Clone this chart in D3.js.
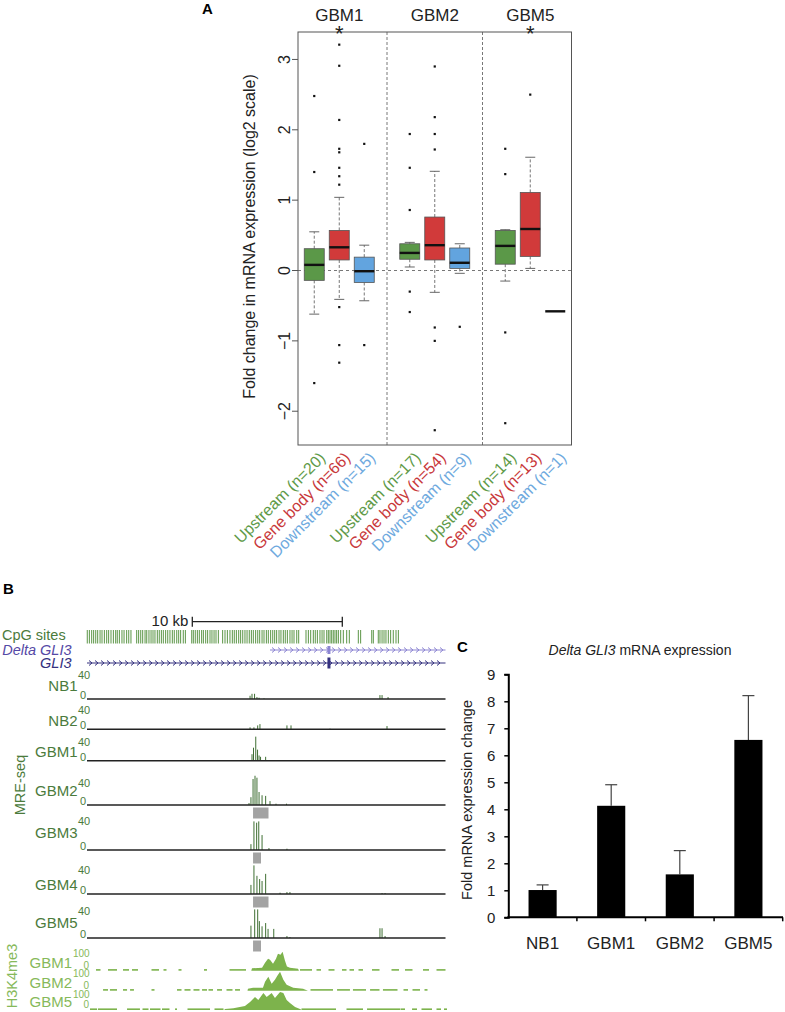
<!DOCTYPE html>
<html>
<head>
<meta charset="utf-8">
<script src="https://cdn.jsdelivr.net/npm/d3@7"></script>
<style>
  body { margin: 0; background: #fff; }
  svg { display: block; font-family: 'Liberation Sans', Arial, Helvetica, sans-serif; }
</style>
</head>
<body>
<svg id="fig" width="785" height="1012"></svg>
<script>
// ---------- panel A data ----------
const groups = ["GBM1", "GBM2", "GBM5"];
const regions = ["Upstream", "Gene body", "Downstream"];
const sigGroups = ["GBM1", "GBM5"];
const counts = [[20, 66, 15], [17, 54, 9], [14, 13, 1]];
// [low whisker, q1, median, q3, high whisker]
const boxStats = [
  [[-0.62, -0.14, 0.08, 0.31, 0.55], [-0.41, 0.15, 0.33, 0.57, 1.04], [-0.43, -0.17, -0.01, 0.19, 0.36]],
  [[0.05, 0.16, 0.25, 0.38, 0.40], [-0.31, 0.15, 0.36, 0.76, 1.41], [-0.04, 0.03, 0.11, 0.32, 0.38]],
  [[-0.15, 0.09, 0.35, 0.57, 0.58], [0.03, 0.20, 0.59, 1.11, 1.61], [-0.58, -0.58, -0.58, -0.58, -0.58]]
];
const outliers = [
  [[2.48, 1.40, -1.60], [3.21, 2.91, 2.14, 1.73, 1.68, 1.46, 1.34, 1.22, -0.52, -1.06, -1.31], [1.80, -1.06]],
  [[1.94, 1.46, 0.86, -0.30, -0.59], [2.90, 2.18, 1.94, 1.72, -0.81, -1.00, -2.27], [-0.80]],
  [[1.73, 1.37, -0.88, -2.17], [2.50], []]
];
const yTicksA = [-2, -1, 0, 1, 2, 3];

// ---------- panel B data (positions in kb) ----------
const cpgSites = [0.02, 0.16, 0.31, 0.44, 0.58, 0.71, 0.87, 1.0, 1.16, 1.31, 1.44, 1.6, 1.76, 1.91, 2.02, 2.16, 2.33, 2.47, 2.64, 2.78, 2.93,
  3.31, 3.44, 3.58, 3.71, 3.87, 3.98, 4.13, 4.27, 4.4, 4.53, 4.69, 4.82, 4.96, 5.09, 5.24, 5.38, 5.53, 5.69, 5.82, 5.98, 6.11, 6.24, 6.42, 6.56,
  6.98, 7.09, 7.22, 7.36, 7.49, 7.64, 7.76, 7.91, 8.04, 8.2, 8.33, 8.47, 8.6, 8.76,
  9.04, 9.2, 9.36, 9.53, 9.69, 9.82, 9.96, 10.11, 10.24, 10.38, 10.53, 10.67, 10.82, 10.96, 11.09, 11.24, 11.38, 11.51, 11.67, 11.8, 11.96,
  12.09, 12.24, 12.38, 12.51, 12.64, 12.8, 12.93, 13.09, 13.22, 13.36, 13.53, 13.67, 13.8, 13.98, 14.11,
  14.6, 14.76, 14.91, 15.09, 15.22, 15.36, 15.53, 15.67, 15.8, 15.98, 16.09, 16.2, 16.31, 16.42, 16.53, 16.64, 16.76, 16.91, 17.09, 17.31, 17.49,
  18.09, 18.24, 18.98, 19.09,
  19.42, 19.53, 19.67, 19.8, 19.93, 20.09, 20.24, 20.42, 20.6, 20.76];
const scaleBarStart = 7.02;
const scaleBarKb = 10;
const deltaGli3 = [12.2, 23.9];
const gli3 = [0, 23.9];
const exonKb = 16.13;

const mreSamples = ["NB1", "NB2", "GBM1", "GBM2", "GBM3", "GBM4", "GBM5"];
// MRE-seq peaks: [kb, read count]
const mrePeaks = [
  [[10.87, 5], [11.0, 8], [11.17, 8], [11.33, 3], [11.47, 2], [11.8, 1], [19.53, 6], [19.67, 6], [20.07, 3]],
  [[10.87, 3], [11.13, 3], [11.38, 6], [11.53, 8], [13.33, 6], [13.6, 6], [16.2, 1], [20.0, 5]],
  [[11.0, 10], [11.1, 20], [11.25, 37], [11.37, 17], [11.47, 8], [11.57, 6], [11.91, 6]],
  [[10.8, 3], [10.93, 12], [11.07, 40], [11.2, 45], [11.33, 42], [11.47, 20], [11.67, 15], [11.91, 14], [12.2, 6], [12.6, 2], [13.3, 2]],
  [[10.93, 9], [11.13, 44], [11.31, 42], [11.45, 44], [11.67, 23], [12.13, 3], [13.33, 2]],
  [[10.93, 14], [11.13, 44], [11.33, 28], [11.51, 23], [11.67, 20], [11.91, 31], [12.87, 2], [13.33, 3], [13.53, 3], [19.67, 1.5], [19.87, 1.5]],
  [[10.93, 19], [11.18, 44], [11.38, 44], [11.49, 26], [11.67, 18], [11.91, 23], [12.07, 14], [12.45, 14], [13.33, 3], [13.53, 1.5], [19.53, 15], [19.67, 15], [19.87, 3]]
];
// grey regions under tracks: [sample, startKb, endKb]
const greyRegions = [["GBM2", 11.07, 12.1], ["GBM3", 11.07, 11.6], ["GBM4", 11.07, 12.1], ["GBM5", 11.07, 11.6]];

const h3Samples = ["GBM1", "GBM2", "GBM5"];
// H3K4me3 coverage around the peak: [kb, signal]
const h3Peak = [
  [[10.95, 0], [11.0, 14], [11.4, 16], [11.67, 18], [11.87, 47], [12.07, 71], [12.2, 65], [12.4, 41], [12.6, 71], [12.73, 100], [12.9, 94], [13.04, 112], [13.2, 59], [13.33, 24], [13.53, 18], [14.07, 12], [14.13, 0]],
  [[10.7, 0], [10.73, 12], [11.07, 18], [11.73, 18], [11.87, 53], [12.09, 82], [12.31, 41], [12.53, 65], [12.7, 90], [12.87, 112], [13.09, 65], [13.31, 35], [13.75, 18], [14.4, 12], [14.73, 0]],
  [[9.15, 0], [9.2, 6], [9.76, 10], [10.53, 24], [10.87, 47], [11.2, 76], [11.42, 59], [11.76, 100], [11.98, 76], [12.31, 100], [12.53, 71], [12.87, 106], [13.09, 100], [13.31, 59], [13.53, 41], [13.87, 18], [14.2, 6], [14.31, 0]]
];
// low background coverage: [startKb, endKb]
const h3Background = [
  [[0.6, 0.9], [1.4, 2.0], [2.4, 2.8], [3.0, 3.4], [4.3, 4.8], [5.1, 5.3], [6.1, 6.3], [7.8, 8.0], [9.5, 10.6], [14.2, 15.0], [15.3, 15.6], [16.1, 16.5], [17.0, 17.3], [17.5, 17.8], [18.1, 18.4], [19.0, 19.5], [20.3, 20.8], [21.2, 21.7], [22.4, 22.8], [23.3, 23.9]],
  [[1.07, 1.4], [1.53, 2.0], [2.4, 2.67], [2.87, 3.13], [4.3, 4.5], [6.0, 6.3], [6.5, 6.9], [7.1, 7.5], [7.67, 8.0], [8.1, 8.4], [8.67, 9.0], [9.3, 9.7], [9.87, 10.2], [14.9, 16.4], [16.67, 17.53], [17.73, 18.6], [18.87, 19.5], [19.73, 20.7], [21.1, 21.4], [21.7, 22.2], [22.5, 22.7]],
  [[0.2, 0.67], [0.73, 2.0], [2.67, 3.53], [3.7, 4.1], [4.2, 4.9], [5.0, 5.5], [5.87, 6.0], [6.7, 8.2], [8.5, 9.1], [14.3, 16.6], [17.3, 18.4], [18.67, 20.87], [20.9, 21.2], [21.67, 22.0], [22.3, 23.0], [23.3, 23.6], [23.8, 24.0]]
];

// ---------- panel C data ----------
const samplesC = ["NB1", "GBM1", "GBM2", "GBM5"];
const foldChange = [1.01, 4.13, 1.59, 6.57];
const foldErr = [0.19, 0.78, 0.88, 1.64];
const yTicksC = [0, 1, 2, 3, 4, 5, 6, 7, 8, 9];

const svg = d3.select("#fig");

// ================= PANEL A =================
const fillA = { "Upstream": "#5b9848", "Gene body": "#d13a3a", "Downstream": "#62a4df" };
const textA = { "Upstream": "#5e9a48", "Gene body": "#c8383a", "Downstream": "#6ea9de" };
const frame = { left: 298, right: 571.5, top: 32, bottom: 445 };

const yA = d3.scaleLinear().domain([-2.48, 3.39]).range([frame.bottom, frame.top]);
const xGroup = d3.scaleBand().domain(groups).range([291.5, 578]);
const xRegion = d3.scalePoint().domain(regions).range([-25, 25]);
const cx = (g, r) => xGroup(g) + xGroup.bandwidth() / 2 + xRegion(r);

const gA = svg.append("g");
gA.append("text").attr("x", 202).attr("y", 14).attr("font-size", 15).attr("font-weight", "bold").text("A");

// zero line and group dividers
gA.append("line")
  .attr("x1", frame.left).attr("x2", frame.right)
  .attr("y1", yA(0)).attr("y2", yA(0))
  .attr("stroke", "#777").attr("stroke-dasharray", "3,3");
groups.slice(1).forEach(g => {
  gA.append("line")
    .attr("x1", xGroup(g)).attr("x2", xGroup(g))
    .attr("y1", frame.top).attr("y2", frame.bottom)
    .attr("stroke", "#555").attr("stroke-dasharray", "3,2").attr("stroke-width", 0.8);
});

// boxes
const boxW = 20;
groups.forEach((g, gi) => {
  regions.forEach((r, ri) => {
    const [lo, q1, med, q3, hi] = boxStats[gi][ri];
    const x = cx(g, r);
    if (counts[gi][ri] > 1) {
      [[q3, hi], [q1, lo]].forEach(([a, b]) => {
        gA.append("line").attr("x1", x).attr("x2", x).attr("y1", yA(a)).attr("y2", yA(b))
          .attr("stroke", "#666").attr("stroke-dasharray", "3,2").attr("stroke-width", 0.9);
        gA.append("line").attr("x1", x - 5).attr("x2", x + 5).attr("y1", yA(b)).attr("y2", yA(b))
          .attr("stroke", "#555").attr("stroke-width", 0.9);
      });
      gA.append("rect")
        .attr("x", x - boxW / 2).attr("y", yA(q3))
        .attr("width", boxW).attr("height", yA(q1) - yA(q3))
        .attr("fill", fillA[r]).attr("stroke", "#555").attr("stroke-width", 0.8);
    }
    gA.append("line").attr("x1", x - boxW / 2).attr("x2", x + boxW / 2)
      .attr("y1", yA(med)).attr("y2", yA(med))
      .attr("stroke", "#111").attr("stroke-width", 2.4);
    gA.selectAll(null).data(outliers[gi][ri]).join("rect")
      .attr("x", x - 1.1).attr("y", d => yA(d) - 1.1)
      .attr("width", 2.2).attr("height", 2.2).attr("fill", "#111");
  });
});

// frame
gA.append("rect")
  .attr("x", frame.left).attr("y", frame.top)
  .attr("width", frame.right - frame.left).attr("height", frame.bottom - frame.top)
  .attr("fill", "none").attr("stroke", "#555").attr("stroke-width", 1);

// y axis
yTicksA.forEach(t => {
  gA.append("line").attr("x1", frame.left - 6).attr("x2", frame.left)
    .attr("y1", yA(t)).attr("y2", yA(t)).attr("stroke", "#555");
  gA.append("text")
    .attr("transform", `translate(290,${yA(t)}) rotate(-90)`)
    .attr("text-anchor", "middle").attr("font-size", 16).attr("fill", "#222")
    .text(t < 0 ? "\u2212" + Math.abs(t) : t);
});
gA.append("text")
  .attr("transform", `translate(255,${(frame.top + frame.bottom) / 2 - 2}) rotate(-90)`)
  .attr("text-anchor", "middle").attr("font-size", 16).attr("fill", "#222")
  .text("Fold change in mRNA expression (log2 scale)");

// group headings and stars
groups.forEach(g => {
  const mid = xGroup(g) + xGroup.bandwidth() / 2;
  gA.append("text").attr("x", mid).attr("y", 20.5)
    .attr("text-anchor", "middle").attr("font-size", 17).attr("fill", "#222").text(g);
  if (sigGroups.includes(g)) {
    gA.append("text").attr("x", mid).attr("y", 41)
      .attr("text-anchor", "middle").attr("font-size", 22).attr("fill", "#222").text("*");
  }
});

// rotated category labels
groups.forEach((g, gi) => {
  regions.forEach((r, ri) => {
    gA.append("text")
      .attr("transform", `translate(${cx(g, r) + 8},455) rotate(-45)`)
      .attr("text-anchor", "end").attr("dy", "0.35em")
      .attr("font-size", 16).attr("fill", textA[r])
      .text(`${r} (n=${counts[gi][ri]})`);
  });
});

// ================= PANEL B =================
const gB = svg.append("g");
const xB = d3.scaleLinear().domain([0, 24]).range([87, 447]);
const mreColor = "#4b7b3c";
const h3Color = "#86b95a";

gB.append("text").attr("x", 3).attr("y", 594).attr("font-size", 15).attr("font-weight", "bold").text("B");

// scale bar
const sbY = 621.7;
gB.append("line").attr("x1", xB(scaleBarStart)).attr("x2", xB(scaleBarStart + scaleBarKb))
  .attr("y1", sbY).attr("y2", sbY).attr("stroke", "#222").attr("stroke-width", 1.3);
[scaleBarStart, scaleBarStart + scaleBarKb].forEach(k => {
  gB.append("line").attr("x1", xB(k)).attr("x2", xB(k)).attr("y1", sbY - 5).attr("y2", sbY + 5)
    .attr("stroke", "#222").attr("stroke-width", 1.3);
});
gB.append("text").attr("x", xB(scaleBarStart) - 4).attr("y", 626).attr("text-anchor", "end")
  .attr("font-size", 15).attr("fill", "#222").text(`${scaleBarKb} kb`);

// CpG sites
gB.append("text").attr("x", 2).attr("y", 639.5).attr("font-size", 14.5).attr("fill", mreColor).text("CpG sites");
gB.selectAll(null).data(cpgSites).join("line")
  .attr("x1", d => xB(d)).attr("x2", d => xB(d))
  .attr("y1", 630).attr("y2", 643.5)
  .attr("stroke", "#6a9f57").attr("stroke-width", 1.1);

// gene models with chevrons
function geneModel(range, y, color, exonH, label, labelY, labelColor) {
  gB.append("line").attr("x1", xB(range[0])).attr("x2", xB(range[1]))
    .attr("y1", y).attr("y2", y).attr("stroke", color).attr("stroke-width", 1.2);
  const chev = d3.range(xB(range[0]) + 4, xB(range[1]) - 1, 6);
  gB.selectAll(null).data(chev).join("path")
    .attr("d", d => `M${d - 2},${y - 2.5}L${d + 1},${y}L${d - 2},${y + 2.5}`)
    .attr("fill", "none").attr("stroke", color).attr("stroke-width", 1);
  gB.append("rect").attr("x", xB(exonKb) - 1.5).attr("y", y - exonH / 2)
    .attr("width", 3).attr("height", exonH).attr("fill", color);
  gB.append("text").attr("x", 71.5).attr("y", labelY).attr("text-anchor", "end")
    .attr("font-size", 14.5).attr("font-style", "italic").attr("fill", labelColor).text(label);
}
geneModel(deltaGli3, 650, "#8b84d2", 8, "Delta GLI3", 654.5, "#5549a6");
geneModel(gli3, 663, "#34317f", 11, "GLI3", 668, "#34317f");

// MRE-seq tracks
const mreLayout = [
  { base: 699, label: 690.5, top: 678.5 },
  { base: 729.3, label: 726, top: 713.5 },
  { base: 760.7, label: 757, top: 746 },
  { base: 805, label: 796, top: 786.5 },
  { base: 850, label: 838, top: 825 },
  { base: 894, label: 890, top: 873.5 },
  { base: 938, label: 928, top: 915 }
];
const hMre = d3.scaleLinear().domain([0, 40]).range([0, 26]);
mreSamples.forEach((s, i) => {
  const L = mreLayout[i];
  gB.append("text").attr("x", 77.5).attr("y", L.label).attr("text-anchor", "end")
    .attr("font-size", 15).attr("fill", mreColor).text(s);
  gB.append("text").attr("x", 78).attr("y", L.top).attr("font-size", 11).attr("fill", mreColor).text("40");
  gB.append("text").attr("x", 86).attr("y", L.base).attr("text-anchor", "end")
    .attr("font-size", 11).attr("fill", mreColor).text("0");
  gB.selectAll(null).data(mrePeaks[i]).join("line")
    .attr("x1", d => xB(d[0])).attr("x2", d => xB(d[0]))
    .attr("y1", L.base).attr("y2", d => L.base - hMre(d[1]))
    .attr("stroke", "#3f6f33").attr("stroke-width", 1);
  gB.append("line").attr("x1", xB(0)).attr("x2", xB(23.9))
    .attr("y1", L.base).attr("y2", L.base).attr("stroke", "#222").attr("stroke-width", 1.4);
  greyRegions.filter(d => d[0] === s).forEach(d => {
    gB.append("rect").attr("x", xB(d[1])).attr("y", L.base + 2.5)
      .attr("width", xB(d[2]) - xB(d[1])).attr("height", 11).attr("fill", "#a3a3a3");
  });
});
gB.append("text").attr("transform", "translate(25,785) rotate(-90)")
  .attr("text-anchor", "middle").attr("font-size", 14.5).attr("fill", mreColor).text("MRE-seq");

// H3K4me3 tracks
const h3Layout = [
  { base: 970.7, label: 968, top: 956.5 },
  { base: 990.7, label: 988, top: 977 },
  { base: 1010, label: 1007, top: 997.5 }
];
const hH3 = d3.scaleLinear().domain([0, 100]).range([0, 17]);
h3Samples.forEach((s, i) => {
  const L = h3Layout[i];
  gB.append("text").attr("x", 72).attr("y", L.label).attr("text-anchor", "end")
    .attr("font-size", 15).attr("fill", h3Color).text(s);
  gB.append("text").attr("x", 73).attr("y", L.top).attr("font-size", 10).attr("fill", h3Color).text("100");
  gB.append("text").attr("x", 89).attr("y", L.base - 2).attr("text-anchor", "end")
    .attr("font-size", 10).attr("fill", h3Color).text("0");
  gB.selectAll(null).data(h3Background[i]).join("rect")
    .attr("x", d => xB(d[0])).attr("y", L.base - 1.6)
    .attr("width", d => xB(d[1]) - xB(d[0])).attr("height", 1.6).attr("fill", "#7db34c");
  const area = d3.area().x(d => xB(d[0])).y0(L.base).y1(d => L.base - hH3(d[1]));
  gB.append("path").datum(h3Peak[i]).attr("d", area).attr("fill", "#7db34c");
});
gB.append("text").attr("transform", "translate(16.5,976) rotate(-90)")
  .attr("text-anchor", "middle").attr("font-size", 14.5).attr("fill", h3Color).text("H3K4me3");

// ================= PANEL C =================
const gC = svg.append("g");
const yC = d3.scaleLinear().domain([0, 9]).range([917.3, 674.3]);
const xC = d3.scaleBand().domain(samplesC).range([508.3, 782.7]).paddingInner(0.59).paddingOuter(0.295);

gC.append("text").attr("x", 457).attr("y", 652).attr("font-size", 15).attr("font-weight", "bold").text("C");
const title = gC.append("text").attr("x", 640).attr("y", 655).attr("text-anchor", "middle")
  .attr("font-size", 14).attr("fill", "#222");
title.append("tspan").attr("font-style", "italic").text("Delta GLI3");
title.append("tspan").text(" mRNA expression");

// error bars (up only) behind bars
samplesC.forEach((s, i) => {
  const x = xC(s) + xC.bandwidth() / 2;
  gC.append("line").attr("x1", x).attr("x2", x)
    .attr("y1", yC(foldChange[i])).attr("y2", yC(foldChange[i] + foldErr[i]))
    .attr("stroke", "#444").attr("stroke-width", 1.2);
  gC.append("line").attr("x1", x - 6).attr("x2", x + 6)
    .attr("y1", yC(foldChange[i] + foldErr[i])).attr("y2", yC(foldChange[i] + foldErr[i]))
    .attr("stroke", "#444").attr("stroke-width", 1.2);
});
gC.selectAll(null).data(samplesC).join("rect")
  .attr("x", d => xC(d)).attr("y", (d, i) => yC(foldChange[i]))
  .attr("width", xC.bandwidth()).attr("height", (d, i) => yC(0) - yC(foldChange[i]))
  .attr("fill", "#000");

// y axis
const yAxisC = gC.append("g").attr("transform", "translate(508.3,0)")
  .call(d3.axisLeft(yC).tickValues(yTicksC).tickSize(4).tickPadding(9).tickFormat(d3.format("d")));
yAxisC.select(".domain").attr("stroke-width", 2).attr("stroke", "#000");
yAxisC.selectAll(".tick line").attr("stroke", "#000").attr("stroke-width", 1.5);
yAxisC.selectAll(".tick text").attr("font-size", 15).attr("fill", "#222")
  .attr("font-family", "'Liberation Sans', Arial, sans-serif");

// x axis
gC.append("line").attr("x1", 507.3).attr("x2", 783).attr("y1", yC(0)).attr("y2", yC(0))
  .attr("stroke", "#000").attr("stroke-width", 2);
samplesC.forEach((s, i) => {
  const right = xC(s) + xC.bandwidth() + xC.step() * 0.295;
  gC.append("line").attr("x1", right).attr("x2", right).attr("y1", yC(0)).attr("y2", yC(0) + 4)
    .attr("stroke", "#000").attr("stroke-width", 1.5);
  gC.append("text").attr("x", xC(s) + xC.bandwidth() / 2).attr("y", 948.5)
    .attr("text-anchor", "middle").attr("font-size", 17).attr("fill", "#222").text(s);
});
gC.append("text").attr("transform", "translate(471.5,800) rotate(-90)")
  .attr("text-anchor", "middle").attr("font-size", 14.5).attr("fill", "#222")
  .text("Fold mRNA expression change");
</script>
</body>
</html>
